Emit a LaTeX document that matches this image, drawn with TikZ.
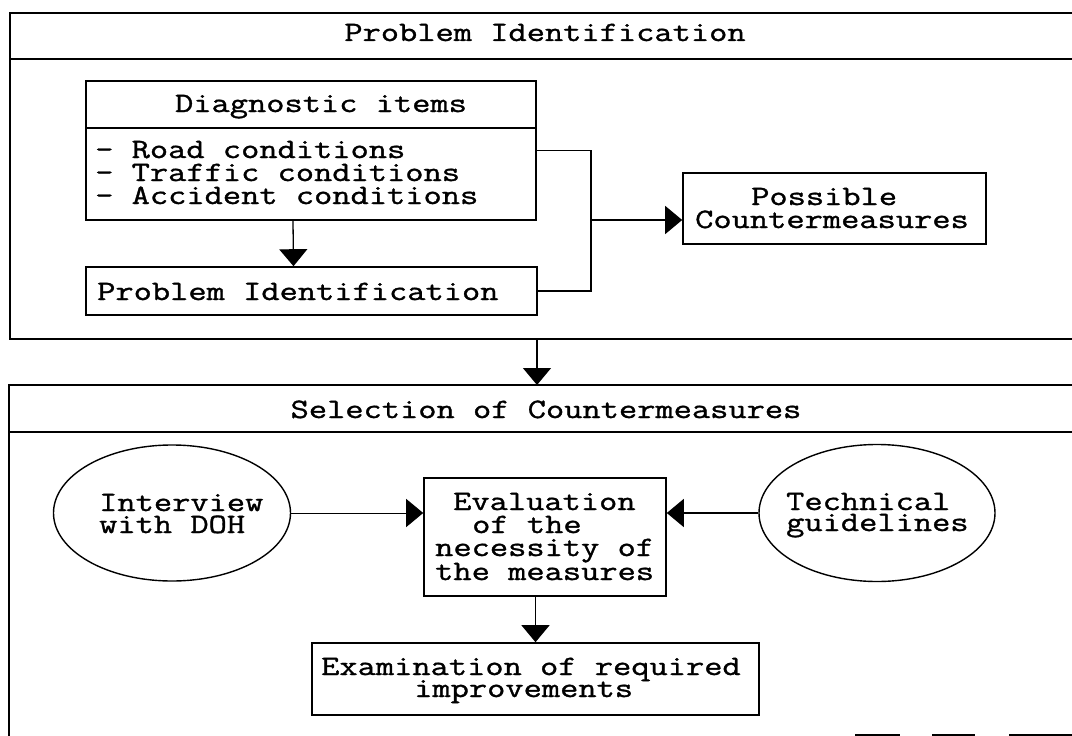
\documentclass[tikz,border=0pt]{standalone}
\usepackage{fontspec}
\newfontfamily\cour{Latin Modern Mono}[FakeStretch=1.265,FakeBold=1.2]
\usetikzlibrary{arrows.meta,shapes.geometric}
\begin{document}
\begin{tikzpicture}[x=1pt,y=-1pt,
  frame/.style={line width=1.8pt},
  box/.style={draw,line width=1.6pt,rectangle,inner sep=0pt},
  oval/.style={draw,line width=1.4pt,ellipse,inner sep=0pt},
  conn/.style={line width=1.3pt},
  arr/.style={line width=1.3pt,-{Triangle[length=17pt,width=28pt]}},
  txt/.style={inner sep=0pt,anchor=base west,font=\cour\fontsize{28}{22.5}\selectfont},
  ctxt/.style={inner sep=0pt,anchor=base,font=\cour\fontsize{28}{22.5}\selectfont}]
\useasboundingbox (0,0) rectangle (1072,736);
\fill[white] (0,0) rectangle (1072,736);

% section 1 frame
\coordinate (f1a) at (1072,13);
\coordinate (f1b) at (10,13);
\coordinate (f1c) at (10,339);
\coordinate (f1d) at (1072,339);
\draw[frame] (f1a) -- (f1b) -- (f1c) -- (f1d);
\draw[frame] (10,59) -- (1072,59);
\node[ctxt] (h1) at (545,41) {Problem Identification};

% diagnostic box
\node[box,minimum width=450pt,minimum height=139pt] (diag) at (311,150.5) {};
\draw[box] (diag.west |- 0,128) -- (diag.east |- 0,128);
\node[ctxt] (dt) at (321,112) {Diagnostic items};
\node[txt] (d1) at (95,158) {- Road conditions};
\node[txt] (d2) at (95,181) {- Traffic conditions};
\node[txt] (d3) at (95,204) {- Accident conditions};

% problem identification box
\node[box,minimum width=451pt,minimum height=48pt] (pi) at (311.5,291) {};
\node[txt] (pit) at (97,300) {Problem Identification};

% possible countermeasures
\node[box,minimum width=303pt,minimum height=71pt] (pc) at (834.5,208.5) {};
\node[txt] (pc1) at (751,205) {Possible};
\node[txt] (pc2) at (695,228) {Countermeasures};

% connectors section 1
\draw[arr] ([xshift=-18pt]diag.south) -- ([xshift=-18pt]pi.north);
\coordinate (j) at (591,220);
\draw[conn] (diag.east) -| (j) |- (pi.east);
\draw[arr] (j) -- (j -| pc.west);

% arrow between sections
\coordinate (s1) at (537,339);
\coordinate (s2) at (537,385);
\draw[arr] (s1) -- (s2);

% section 2 frame
\coordinate (f2a) at (1072,385);
\coordinate (f2b) at (9,385);
\coordinate (f2c) at (9,736);
\draw[frame] (f2a) -- (f2b) -- (f2c);
\draw[frame] (9,432) -- (1072,432);
\draw[frame] (855,735) -- (900,735);
\draw[frame] (932,735) -- (975,735);
\draw[frame] (1009,735) -- (1072,735);
\node[ctxt] (h2) at (546,418) {Selection of Countermeasures};

% ellipses
\node[oval,minimum width=237pt,minimum height=136pt] (iv) at (172,513) {};
\node[txt] (iv1) at (99,511) {Interview};
\node[txt] (iv2) at (99,533) {with DOH};
\node[oval,minimum width=236pt,minimum height=137pt] (tg) at (877,513) {};
\node[txt] (tg1) at (786,510) {Technical};
\node[txt] (tg2) at (786,531) {guidelines};

% evaluation box
\node[box,minimum width=242pt,minimum height=118pt] (ev) at (545,537) {};
\node[txt] (ev1) at (453,510) {Evaluation};
\node[txt] (ev2) at (472,533) {of the};
\node[txt] (ev3) at (435,556) {necessity of};
\node[txt] (ev4) at (435,580) {the measures};

% examination box
\node[box,minimum width=447pt,minimum height=72pt] (ex) at (535.5,679) {};
\node[txt] (ex1) at (321,675) {Examination of required};
\node[txt] (ex2) at (414,697) {improvements};

% connectors section 2
\draw[arr,line width=1pt] (iv.east) -- (iv.east -| ev.west);
\draw[arr] (tg.west) -- (tg.west -| ev.east);
\draw[arr] (ev.south -| ex.north) -- (ex.north);
\end{tikzpicture}
\end{document}
